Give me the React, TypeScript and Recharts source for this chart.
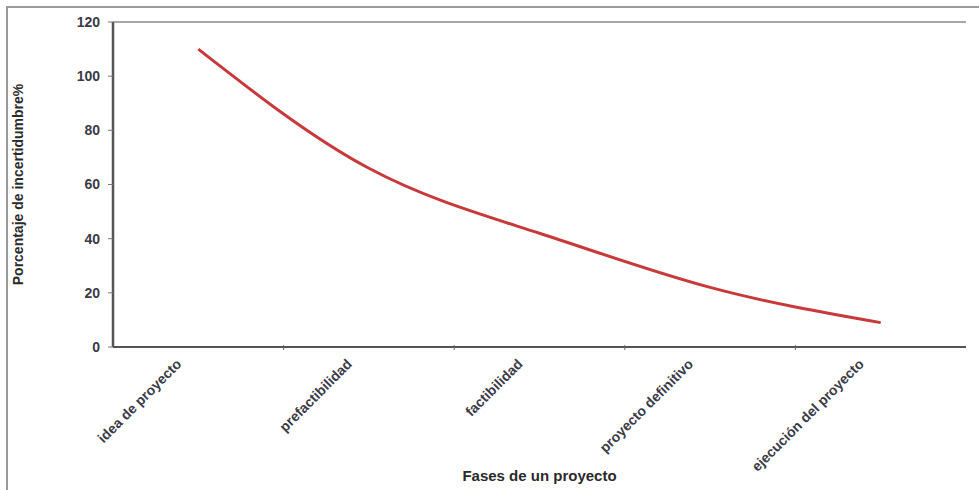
import { LineChart, Line, XAxis, YAxis, CartesianGrid } from "recharts";

// fases del proyecto y su porcentaje de incertidumbre
const fases = [
  "idea de proyecto",
  "prefactibilidad",
  "factibilidad",
  "proyecto definitivo",
  "ejecución del proyecto",
];

const incertidumbre = [110, 66, 42, 22, 9];

const yTicks = [0, 20, 40, 60, 80, 100, 120];

const data = fases.map((fase, i) => ({ fase, valor: incertidumbre[i] }));

const FONT = "'Liberation Sans', Arial, sans-serif";

// etiqueta inclinada; la marca del eje va en el límite entre categorías
function FaseTick(props: any) {
  const { x, y, payload, index, width } = props;
  const halfBand = width / fases.length / 2;
  return (
    <g>
      {index < fases.length - 1 && (
        <line
          x1={x + halfBand}
          x2={x + halfBand}
          y1={y - 8}
          y2={y - 3}
          stroke="#666"
          strokeWidth={1}
        />
      )}
      <g transform={`translate(${x - 16},${y + 12})`}>
        <text
          transform="rotate(-45)"
          textAnchor="end"
          fontFamily={FONT}
          fontWeight="bold"
          fontSize={14}
          fill="#3a3a46"
        >
          {payload.value}
        </text>
      </g>
    </g>
  );
}

export default function App() {
  return (
    <div
      style={{
        position: "absolute",
        left: 0,
        top: 0,
        width: 979,
        height: 490,
        background: "#fff",
      }}
    >
      {/* marco del gráfico */}
      <div
        style={{
          position: "absolute",
          left: 6,
          top: 6,
          width: 973,
          height: 484,
          borderTop: "2px solid #9a9a9a",
          borderLeft: "2px solid #9a9a9a",
          boxSizing: "border-box",
        }}
      />
      <LineChart
        width={979}
        height={490}
        data={data}
        margin={{ top: 22, right: 13, left: 0, bottom: 0 }}
        style={{ position: "absolute", left: 0, top: 0 }}
      >
        <CartesianGrid vertical={false} stroke="#8a8a8a" strokeWidth={1.6} />
        <XAxis
          dataKey="fase"
          scale="band"
          height={143}
          interval={0}
          tick={<FaseTick />}
          tickLine={false}
          tickSize={4}
          axisLine={{ stroke: "#555", strokeWidth: 2 }}
          label={{
            value: "Fases de un proyecto",
            position: "insideBottom",
            offset: 9,
            style: {
              fontFamily: FONT,
              fontWeight: "bold",
              fontSize: 15,
              fill: "#2a2a2a",
            },
          }}
        />
        <YAxis
          yAxisId="left"
          width={113}
          domain={[0, 120]}
          ticks={yTicks}
          tickSize={5}
          tickMargin={8}
          axisLine={{ stroke: "#555", strokeWidth: 2.5 }}
          tickLine={{ stroke: "#777" }}
          tick={{
            fontFamily: FONT,
            fontWeight: "bold",
            fontSize: 14,
            fill: "#3a3a46",
          }}
          label={{
            value: "Porcentaje de incertidumbre%",
            angle: -90,
            position: "insideLeft",
            offset: 18,
            style: {
              textAnchor: "middle",
              fontFamily: FONT,
              fontWeight: "bold",
              fontSize: 14,
              fill: "#2a2a2a",
            },
          }}
        />
        <YAxis
          yAxisId="right"
          orientation="right"
          width={0}
          domain={[0, 120]}
          ticks={yTicks}
          tick={false}
          tickLine={false}
          axisLine={{ stroke: "#8a8a8a", strokeWidth: 2 }}
        />
        <Line
          yAxisId="left"
          type="natural"
          dataKey="valor"
          stroke="#c8393b"
          strokeWidth={3}
          dot={false}
          isAnimationActive={false}
        />
      </LineChart>
    </div>
  );
}
